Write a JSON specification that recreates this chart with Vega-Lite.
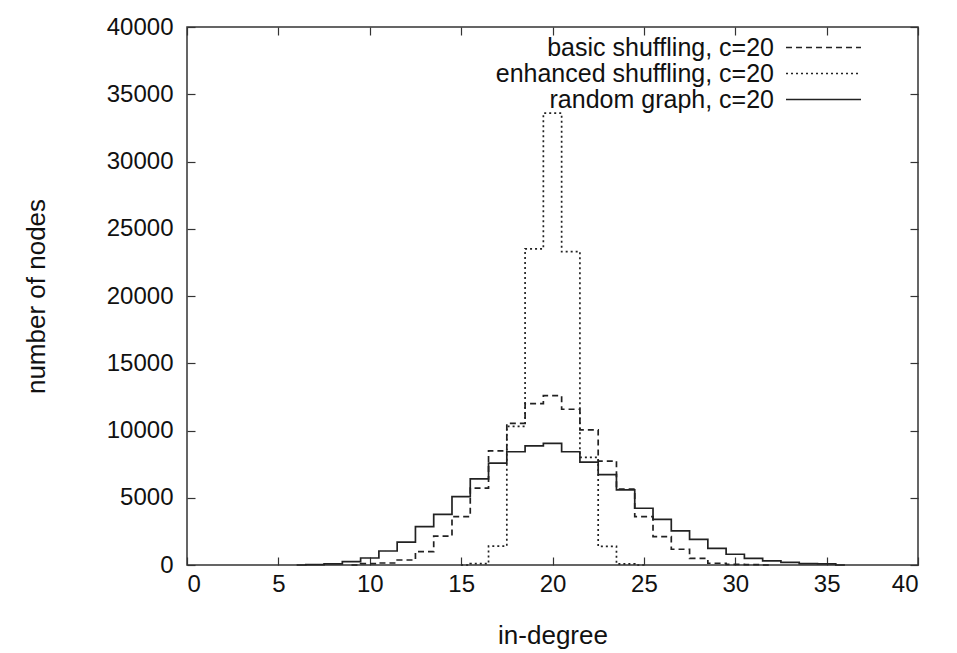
{
  "$schema": "https://vega.github.io/schema/vega-lite/v6.json",
  "autosize": {"type": "none"},
  "padding": {"left": 187, "top": 27, "right": 39, "bottom": 88},
  "width": 731,
  "height": 538,
  "background": "white",
  "config": {
    "view": {"stroke": "#333", "strokeWidth": 1.5},
    "font": "Liberation Sans",
    "axis": {
      "grid": false,
      "domain": false,
      "tickSize": -8,
      "tickColor": "#333",
      "tickWidth": 1.2,
      "labelFont": "Liberation Sans",
      "labelFontSize": 24,
      "labelColor": "#111",
      "titleFont": "Liberation Sans",
      "titleFontSize": 26,
      "titleFontWeight": "normal",
      "titleColor": "#111"
    }
  },
  "data": {
    "values": [
      {"deg": 6, "nodes": 0, "series": "random graph, c=20"},
      {"deg": 7, "nodes": 30, "series": "random graph, c=20"},
      {"deg": 8, "nodes": 90, "series": "random graph, c=20"},
      {"deg": 9, "nodes": 250, "series": "random graph, c=20"},
      {"deg": 10, "nodes": 520, "series": "random graph, c=20"},
      {"deg": 11, "nodes": 1040, "series": "random graph, c=20"},
      {"deg": 12, "nodes": 1700, "series": "random graph, c=20"},
      {"deg": 13, "nodes": 2850, "series": "random graph, c=20"},
      {"deg": 14, "nodes": 3770, "series": "random graph, c=20"},
      {"deg": 15, "nodes": 5080, "series": "random graph, c=20"},
      {"deg": 16, "nodes": 6400, "series": "random graph, c=20"},
      {"deg": 17, "nodes": 7580, "series": "random graph, c=20"},
      {"deg": 18, "nodes": 8420, "series": "random graph, c=20"},
      {"deg": 19, "nodes": 8850, "series": "random graph, c=20"},
      {"deg": 20, "nodes": 9050, "series": "random graph, c=20"},
      {"deg": 21, "nodes": 8420, "series": "random graph, c=20"},
      {"deg": 22, "nodes": 7650, "series": "random graph, c=20"},
      {"deg": 23, "nodes": 6720, "series": "random graph, c=20"},
      {"deg": 24, "nodes": 5580, "series": "random graph, c=20"},
      {"deg": 25, "nodes": 4220, "series": "random graph, c=20"},
      {"deg": 26, "nodes": 3390, "series": "random graph, c=20"},
      {"deg": 27, "nodes": 2530, "series": "random graph, c=20"},
      {"deg": 28, "nodes": 1910, "series": "random graph, c=20"},
      {"deg": 29, "nodes": 1240, "series": "random graph, c=20"},
      {"deg": 30, "nodes": 800, "series": "random graph, c=20"},
      {"deg": 31, "nodes": 500, "series": "random graph, c=20"},
      {"deg": 32, "nodes": 300, "series": "random graph, c=20"},
      {"deg": 33, "nodes": 200, "series": "random graph, c=20"},
      {"deg": 34, "nodes": 100, "series": "random graph, c=20"},
      {"deg": 35, "nodes": 80, "series": "random graph, c=20"},
      {"deg": 36, "nodes": 0, "series": "random graph, c=20"},
      {"deg": 9, "nodes": 0, "series": "basic shuffling, c=20"},
      {"deg": 10, "nodes": 100, "series": "basic shuffling, c=20"},
      {"deg": 11, "nodes": 150, "series": "basic shuffling, c=20"},
      {"deg": 12, "nodes": 370, "series": "basic shuffling, c=20"},
      {"deg": 13, "nodes": 1000, "series": "basic shuffling, c=20"},
      {"deg": 14, "nodes": 2150, "series": "basic shuffling, c=20"},
      {"deg": 15, "nodes": 3590, "series": "basic shuffling, c=20"},
      {"deg": 16, "nodes": 5720, "series": "basic shuffling, c=20"},
      {"deg": 17, "nodes": 8480, "series": "basic shuffling, c=20"},
      {"deg": 18, "nodes": 10530, "series": "basic shuffling, c=20"},
      {"deg": 19, "nodes": 12000, "series": "basic shuffling, c=20"},
      {"deg": 20, "nodes": 12590, "series": "basic shuffling, c=20"},
      {"deg": 21, "nodes": 11580, "series": "basic shuffling, c=20"},
      {"deg": 22, "nodes": 10040, "series": "basic shuffling, c=20"},
      {"deg": 23, "nodes": 7730, "series": "basic shuffling, c=20"},
      {"deg": 24, "nodes": 5640, "series": "basic shuffling, c=20"},
      {"deg": 25, "nodes": 3590, "series": "basic shuffling, c=20"},
      {"deg": 26, "nodes": 2110, "series": "basic shuffling, c=20"},
      {"deg": 27, "nodes": 1170, "series": "basic shuffling, c=20"},
      {"deg": 28, "nodes": 500, "series": "basic shuffling, c=20"},
      {"deg": 29, "nodes": 130, "series": "basic shuffling, c=20"},
      {"deg": 30, "nodes": 50, "series": "basic shuffling, c=20"},
      {"deg": 31, "nodes": 30, "series": "basic shuffling, c=20"},
      {"deg": 32, "nodes": 0, "series": "basic shuffling, c=20"},
      {"deg": 15, "nodes": 0, "series": "enhanced shuffling, c=20"},
      {"deg": 16, "nodes": 100, "series": "enhanced shuffling, c=20"},
      {"deg": 17, "nodes": 1400, "series": "enhanced shuffling, c=20"},
      {"deg": 18, "nodes": 10300, "series": "enhanced shuffling, c=20"},
      {"deg": 19, "nodes": 23500, "series": "enhanced shuffling, c=20"},
      {"deg": 20, "nodes": 33600, "series": "enhanced shuffling, c=20"},
      {"deg": 21, "nodes": 23300, "series": "enhanced shuffling, c=20"},
      {"deg": 22, "nodes": 8000, "series": "enhanced shuffling, c=20"},
      {"deg": 23, "nodes": 1380, "series": "enhanced shuffling, c=20"},
      {"deg": 24, "nodes": 80, "series": "enhanced shuffling, c=20"},
      {"deg": 25, "nodes": 0, "series": "enhanced shuffling, c=20"}
    ]
  },
  "layer": [
    {
      "mark": {"type": "line", "interpolate": "step", "color": "#222", "strokeWidth": 1.7},
      "encoding": {
        "x": {"field": "deg", "type": "quantitative", "scale": {"domain": [0, 40], "nice": false},
              "axis": {"orient": "bottom", "values": [0,5,10,15,20,25,30,35,40], "title": "in-degree", "labelPadding": 15, "titlePadding": 26}},
        "y": {"field": "nodes", "type": "quantitative", "scale": {"domain": [0, 40000], "nice": false},
              "axis": {"orient": "left", "values": [0,5000,10000,15000,20000,25000,30000,35000,40000], "format": "d", "title": "number of nodes", "labelPadding": 22, "titlePadding": 57}},
        "strokeDash": {"field": "series", "type": "nominal",
          "scale": {"domain": ["basic shuffling, c=20", "enhanced shuffling, c=20", "random graph, c=20"], "range": [[6, 4], [2, 3], [1, 0]]},
          "legend": {
            "title": null, "orient": "none", "legendX": 624, "legendY": 8,
            "symbolType": "M-3.26,0H3.26", "symbolSize": 529, "symbolStrokeWidth": 1.5, "symbolStrokeColor": "#222",
            "labelAlign": "right", "labelOffset": -62, "labelFont": "Liberation Sans", "labelFontSize": 25,
            "labelColor": "#111", "labelLimit": 0, "rowPadding": 0, "padding": 0
          }
        },
        "detail": {"field": "series"}
      }
    },
    {
      "mark": {"type": "line", "strokeOpacity": 0},
      "encoding": {
        "x": {"field": "deg", "type": "quantitative", "scale": {"domain": [0, 40], "nice": false},
              "axis": {"orient": "top", "values": [0,5,10,15,20,25,30,35,40], "labels": false, "title": null}},
        "y": {"field": "nodes", "type": "quantitative", "scale": {"domain": [0, 40000], "nice": false},
              "axis": {"orient": "right", "values": [0,5000,10000,15000,20000,25000,30000,35000,40000], "labels": false, "title": null}},
        "detail": {"field": "series"}
      }
    }
  ],
  "resolve": {"axis": {"x": "independent", "y": "independent"}}
}
